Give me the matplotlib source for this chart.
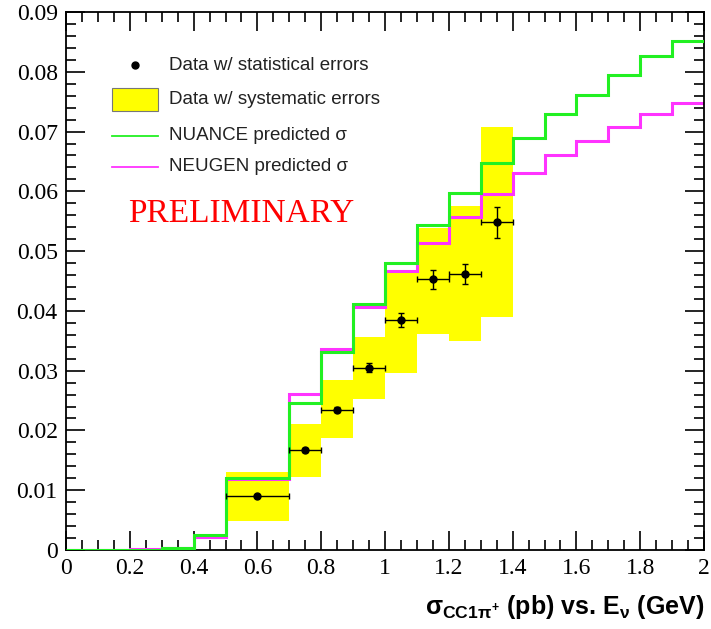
import numpy as np
import matplotlib
matplotlib.use('Agg')
import matplotlib.pyplot as plt
from matplotlib.ticker import MultipleLocator, FuncFormatter
from matplotlib.patches import Rectangle
from matplotlib.lines import Line2D

# Data points with statistical errors
x_data = [0.6, 0.75, 0.85, 0.95, 1.05, 1.15, 1.25, 1.35]
x_err = [0.1, 0.05, 0.05, 0.05, 0.05, 0.05, 0.05, 0.05]
y_data = [0.009, 0.0167, 0.0235, 0.0305, 0.0385, 0.0453, 0.0462, 0.0548]
y_err = [0.0002, 0.0003, 0.0004, 0.0008, 0.0012, 0.0016, 0.0017, 0.0026]

# Systematic error band (low / high per bin)
sys_low = [0.0049, 0.0122, 0.0187, 0.0253, 0.0296, 0.0362, 0.0350, 0.0389]
sys_high = [0.0131, 0.0211, 0.0284, 0.0356, 0.0463, 0.0539, 0.0576, 0.0708]

# Predictions (histograms)
pred_edges = [0, 0.1, 0.2, 0.3, 0.4, 0.5, 0.7, 0.8, 0.9, 1.0, 1.1, 1.2,
              1.3, 1.4, 1.5, 1.6, 1.7, 1.8, 1.9, 2.0]
nuance = [0, 0, 0, 0.0003, 0.0025, 0.012, 0.0246, 0.0332, 0.0412, 0.048,
          0.0543, 0.0597, 0.0648, 0.0690, 0.0729, 0.0761, 0.0795, 0.0826, 0.0852]
neugen = [0, 0, 0.0002, 0.0003, 0.0021, 0.0118, 0.0261, 0.0337, 0.0407, 0.0466,
          0.0514, 0.0557, 0.0596, 0.0630, 0.0660, 0.0685, 0.0708, 0.0729, 0.0747]

GREEN = '#22f022'
MAGENTA = '#ff33ff'
YELLOW = '#ffff00'

plt.rcParams['mathtext.fontset'] = 'custom'
plt.rcParams['mathtext.rm'] = 'Liberation Sans:bold'
plt.rcParams['mathtext.it'] = 'Liberation Sans:bold'
plt.rcParams['mathtext.bf'] = 'Liberation Sans:bold'

fig = plt.figure(figsize=(7.11, 6.29), dpi=100)
ax = fig.add_axes([66 / 711, 79 / 629, 638 / 711, 538 / 629])

# systematic boxes
widths = [2 * e for e in x_err]
lefts = [x - e for x, e in zip(x_data, x_err)]
heights = [h - l for h, l in zip(sys_high, sys_low)]
ax.bar(lefts, heights, width=widths, bottom=sys_low, align='edge',
       color=YELLOW, edgecolor='none', zorder=1)

# predictions
ax.stairs(neugen, pred_edges, color=MAGENTA, lw=2.2, baseline=None, zorder=2)
ax.stairs(nuance, pred_edges, color=GREEN, lw=2.2, baseline=None, zorder=3)

# data points
ax.errorbar(x_data, y_data, xerr=x_err, yerr=y_err, fmt='o', color='black',
            ms=5, elinewidth=1, capsize=2.5, capthick=1, zorder=4)

ax.set_xlim(0, 2)
ax.set_ylim(0, 0.09)

ax.xaxis.set_major_locator(MultipleLocator(0.2))
ax.xaxis.set_minor_locator(MultipleLocator(0.05))
ax.yaxis.set_major_locator(MultipleLocator(0.01))
ax.yaxis.set_minor_locator(MultipleLocator(0.002))
fmt = FuncFormatter(lambda v, p: '%g' % round(v, 4))
ax.xaxis.set_major_formatter(fmt)
ax.yaxis.set_major_formatter(fmt)

ax.tick_params(which='both', direction='in', top=True, right=True, width=1.2)
ax.tick_params(which='major', length=14)
ax.tick_params(which='minor', length=7)
ax.tick_params(axis='x', pad=6)
ax.tick_params(axis='y', pad=6)
for lbl in ax.get_xticklabels() + ax.get_yticklabels():
    lbl.set_family('Liberation Serif')
    lbl.set_fontsize(17)
for sp in ax.spines.values():
    sp.set_linewidth(1.3)

# legend drawn by hand
tr = ax.transAxes
leg_font = dict(family='Liberation Sans', fontsize=13.5, va='center', ha='left',
                color='#222222', transform=tr)
ax.add_line(Line2D([0.108], [0.901], marker='o', ms=5, color='black',
                   transform=tr))
ax.add_patch(Rectangle((0.072, 0.816), 0.072, 0.043, facecolor=YELLOW,
                       edgecolor='#777777', lw=0.8, transform=tr))
ax.add_line(Line2D([0.072, 0.144], [0.770, 0.770], color=GREEN, lw=1.3,
                   transform=tr))
ax.add_line(Line2D([0.072, 0.144], [0.712, 0.712], color=MAGENTA, lw=1.3,
                   transform=tr))
ax.text(0.161, 0.901, 'Data w/ statistical errors', **leg_font)
ax.text(0.161, 0.838, 'Data w/ systematic errors', **leg_font)
ax.text(0.161, 0.770, 'NUANCE predicted \u03c3', **leg_font)
ax.text(0.161, 0.712, 'NEUGEN predicted \u03c3', **leg_font)

ax.text(0.097, 0.625, 'PRELIMINARY', color='red', family='Liberation Serif',
        fontsize=24, va='center', ha='left', transform=tr)

fig.text(704 / 711, 1 - 607 / 629,
         r'$\sigma_{\mathrm{CC1}\pi^{+}}$ (pb) vs. E$_{\nu}$ (GeV)',
         family='Liberation Sans', fontweight='bold', fontsize=18,
         ha='right', va='center')

fig.savefig('out.png', dpi=100)
